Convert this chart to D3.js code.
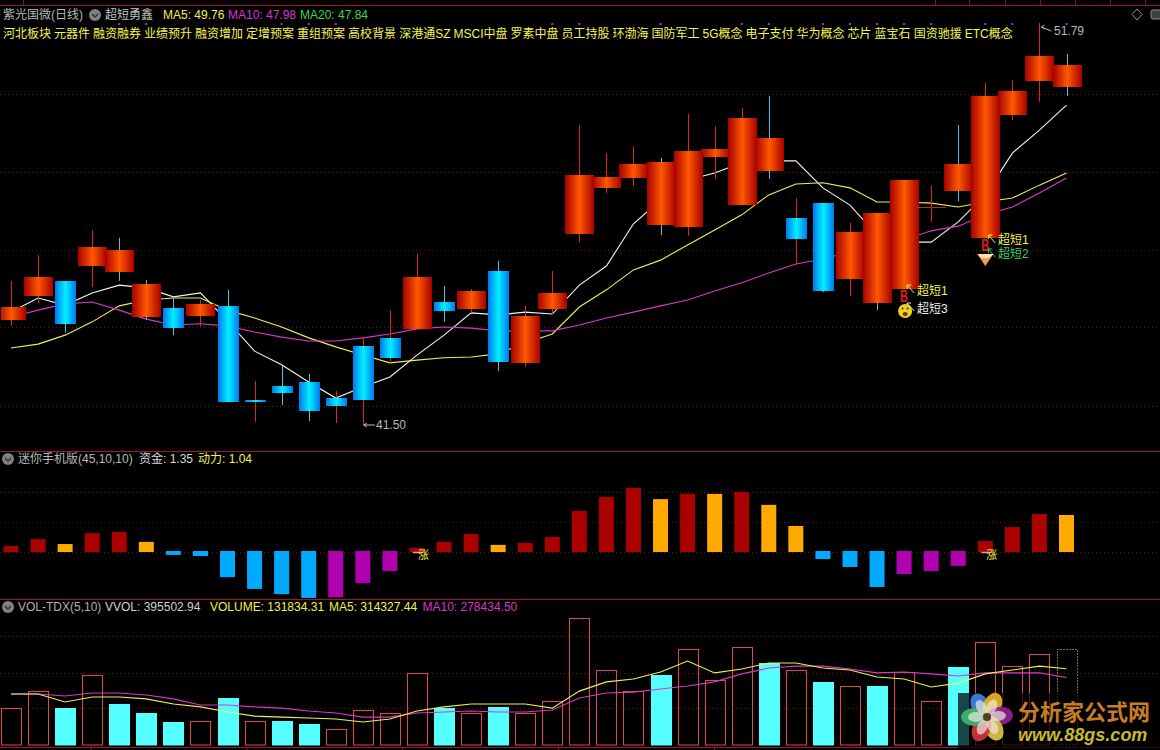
<!DOCTYPE html>
<html><head><meta charset="utf-8">
<script src="https://cdn.jsdelivr.net/npm/d3@7/dist/d3.min.js"></script>
<style>
html,body{margin:0;padding:0;background:#000;overflow:hidden}
text{font-family:"Liberation Sans","Noto Sans CJK SC",sans-serif;font-size:12px}
</style></head><body><svg id="c" width="1160" height="750"></svg>
<script>
const opens=[44.19,44.80,45.19,45.57,45.42,44.26,44.50,44.29,44.55,42.14,42.50,42.60,42.19,43.52,43.73,43.96,44.65,44.47,45.44,43.09,44.47,46.39,47.57,47.82,46.62,46.57,48.36,47.13,48.00,46.80,47.18,45.24,44.62,44.98,47.06,47.49,46.29,49.44,50.31,50.15];
const closes=[44.52,45.29,44.09,46.06,45.98,45.11,43.98,44.60,42.09,42.09,42.32,41.86,41.99,42.14,43.22,45.29,44.42,44.93,43.11,44.29,44.88,47.90,47.85,48.18,48.23,48.51,48.57,49.36,48.85,46.26,44.93,46.44,46.93,47.77,47.08,48.18,49.92,50.05,50.95,50.72];
const highs=[45.19,45.85,45.19,46.49,46.29,45.21,44.75,44.70,44.96,42.63,43.01,42.81,42.37,43.75,44.44,45.88,45.06,44.98,45.70,44.55,45.44,49.18,48.46,48.62,48.34,49.46,49.15,49.62,49.92,47.31,47.18,46.67,46.93,47.77,47.62,49.18,50.26,50.33,51.79,51.00];
const lows=[44.03,44.62,43.86,45.03,45.19,44.19,43.80,44.03,42.09,41.58,42.01,41.60,41.55,41.50,43.09,43.96,44.14,44.37,42.88,42.98,44.34,46.18,47.44,47.62,46.36,46.34,47.80,47.13,47.80,45.62,44.90,44.80,44.44,44.98,46.70,47.23,46.29,49.31,49.77,49.92];
const bodyKinds="rrbrrrbrbbbbbbbrbrbrrrrrrrrrrbbrrrrrrrrr".split("");
const wickKinds="rrcrcccrcrccrrrrcrcrrrrrcrrrcrcrcrrcrrrc".split("");
const ma5Price=[44.39,44.75,44.57,44.88,45.08,45.01,44.78,44.88,44.16,43.39,43.04,42.60,42.19,42.47,42.73,43.29,43.80,44.37,44.32,44.39,44.34,45.08,45.57,46.65,47.26,47.77,47.95,48.21,48.26,48.26,47.57,47.13,46.36,46.18,46.18,46.70,47.39,48.46,49.05,49.69];
const ma10Price=[43.47,43.57,43.80,44.14,44.55,44.70,44.75,44.75,44.44,44.24,44.01,43.73,43.50,43.29,43.09,43.16,43.22,43.24,43.32,43.60,43.83,44.52,44.96,45.47,45.72,46.11,46.49,46.88,47.39,47.67,47.70,47.57,47.21,47.21,47.18,47.08,47.21,47.31,47.64,47.95];
const ma20Price=[44.26,44.44,44.60,44.65,44.44,44.21,44.06,44.09,44.03,43.88,43.75,43.65,43.65,43.73,43.83,43.96,44.01,43.98,43.91,43.91,43.91,44.06,44.24,44.39,44.55,44.70,44.93,45.14,45.39,45.62,45.75,45.93,46.11,46.24,46.47,46.59,46.88,47.08,47.44,47.82];
const flowValues=[0.22,0.47,0.29,0.69,0.73,0.37,-0.07,-0.11,-0.88,-1.31,-1.50,-1.64,-1.61,-1.10,-0.66,0.15,0.37,0.66,0.26,0.33,0.55,1.50,2.01,2.34,1.93,2.12,2.12,2.19,1.72,0.95,-0.22,-0.51,-1.24,-0.77,-0.66,-0.47,0.40,0.91,1.39,1.35];
const flowKinds="rrorroBBBBBBmmmrrrorrrrrororooBBBmmmrrro".split("");
const volumes=[152,222,152,288,169,132,95,99,194,99,99,87,66,144,132,297,152,132,157,132,181,523,309,222,288,396,268,404,338,309,260,243,243,301,181,321,424,325,375,395.5];
const volKinds="hhchccchchcchhhhchchhhhhchhhchchchhchhhd".split("");
const volMa5=[210,210,177,198,198,190,169,157,136,119,115,111,107,95,107,140,157,169,169,169,152,222,260,272,301,346,297,313,338,338,317,309,280,272,239,255,293,309,325,314];
const volMa10=[210,210,202,214,214,206,190,165,165,157,152,140,132,115,115,132,136,140,136,136,144,194,214,218,231,243,260,293,317,325,325,313,297,301,293,284,297,297,297,278];
const tags=["河北板块","元器件","融资融券","业绩预升","融资增加","定增预案","重组预案","高校背景","深港通SZ","MSCI中盘","罗素中盘","员工持股","环渤海","国防军工","5G概念","电子支付","华为概念","芯片","蓝宝石","国资驰援","ETC概念"];
const dotIdx=[4,5,10,11,12,20,21,24,27,28,30,31,32,33,34,36,37,39];
const priceGrid=[49.97,47.98,45.98,44.01,41.99];
const flowGrid=[0,1.09,2.19];
const volGrid=[152,297,449];
const axisIdx=[2.96,8.72,14.48,20.24,26];

const svg=d3.select("#c");
svg.append("rect").attr("width",1160).attr("height",750).attr("fill","#000");
const defs=svg.append("defs");
function grad(id,edge,mid){
  const g=defs.append("linearGradient").attr("id",id);
  [[0,edge],[.5,mid],[1,edge]].forEach(s=>g.append("stop").attr("offset",s[0]).attr("stop-color",s[1]));
}
grad("gr","#a80000","#ff5800");grad("gb","#0078f0","#00f0ff");
defs.append("clipPath").attr("id","plot").append("rect").attr("x",1).attr("y",0).attr("width",1159).attr("height",450);

const n=opens.length, idx=d3.range(n);
const x=d3.scaleLinear().domain([0,39]).range([11,1066.5]);
const yP=d3.scaleLinear().domain([41.5,51.79]).range([425,23]);
const yF=d3.scaleLinear().domain([0,1.35]).range([552,515]);
const yV=d3.scaleLinear().domain([0,395.5]).range([745,649]);

// frame
const frameC="#a01828";
[5,451,599,747].forEach(y=>svg.append("line").attr("x1",0).attr("x2",1160).attr("y1",y+.5).attr("y2",y+.5).attr("stroke",frameC));
[23,935,969,1005,1040,1075,1110,1145].forEach(v=>svg.append("line").attr("x1",v+.5).attr("x2",v+.5).attr("y1",0).attr("y2",5).attr("stroke","#801820"));
svg.append("g").selectAll("line").data(axisIdx).join("line").attr("x1",d=>x(d)).attr("x2",d=>x(d)).attr("y1",747).attr("y2",750).attr("stroke",frameC);
function grid(sel,vals,sc){
  sel.selectAll("line").data(vals).join("line").attr("x1",0).attr("x2",1160)
   .attr("y1",d=>Math.round(sc(d))+.5).attr("y2",d=>Math.round(sc(d))+.5)
   .attr("stroke","#6a1414").attr("stroke-dasharray","1 3");
}
grid(svg.append("g"),priceGrid,yP);grid(svg.append("g"),flowGrid,yF);grid(svg.append("g"),volGrid,yV);

// price lines (behind candles)
const lineOf=(sc)=>d3.line().x((d,i)=>x(i)).y(d=>sc(d));
[[ma5Price,"#f4f4f4"],[ma10Price,"#f0f050"],[ma20Price,"#d838c8"]].forEach(([a,c])=>
  svg.append("path").attr("d",lineOf(yP)(a)).attr("fill","none").attr("stroke",c).attr("stroke-width",1.1));
// candles
const cg=svg.append("g").attr("clip-path","url(#plot)");
idx.forEach(i=>{
  cg.append("line").attr("x1",Math.round(x(i))+.5).attr("x2",Math.round(x(i))+.5).attr("y1",yP(highs[i])).attr("y2",yP(lows[i]))
    .attr("stroke",wickKinds[i]=="r"?"#e02424":"#48c4ec").attr("stroke-width",1);
});
idx.forEach(i=>{
  const red=bodyKinds[i]=="r", w=red?29:21;
  const t=Math.round(yP(Math.max(opens[i],closes[i]))), b=Math.round(yP(Math.min(opens[i],closes[i])));
  cg.append("rect").attr("x",Math.round(x(i))+.5-w/2).attr("width",w).attr("y",t).attr("height",Math.max(1,b-t))
    .attr("fill",b-t<=1?"#b03020":`url(#${red?"gr":"gb"})`);
});

// flow bars
const flowC={r:"#aa0000",o:"#ffaa00",B:"#00aaff",m:"#b000b0"};
svg.append("g").selectAll("rect").data(flowValues).join("rect")
 .attr("x",(d,i)=>x(i)-7.5).attr("width",15)
 .attr("y",d=>d>=0?yF(d):551).attr("height",d=>d>=0?552-yF(d):yF(d)-551+1)
 .attr("fill",(d,i)=>flowC[flowKinds[i]]);

// volume
svg.append("g").selectAll("rect").data(volumes).join("rect")
 .attr("x",(d,i)=>Math.round(x(i))-10+.5).attr("width",20)
 .attr("y",d=>Math.round(yV(d))+.5).attr("height",d=>744.5-Math.round(yV(d)))
 .attr("fill",(d,i)=>volKinds[i]=="c"?"#55ffff":"none")
 .attr("stroke",(d,i)=>volKinds[i]=="c"?"#55ffff":volKinds[i]=="d"?"#e8e850":"#e04848")
 .attr("stroke-dasharray",(d,i)=>volKinds[i]=="d"?"1 2":null);
[[volMa10,"#d838c8"],[volMa5,"#f0f050"]].forEach(([a,c])=>
  svg.append("path").attr("d",lineOf(yV)(a)).attr("fill","none").attr("stroke",c).attr("stroke-width",1.1));

// text helpers
const T=(s,px,py,c,o={})=>{const t=svg.append("text").attr("x",px).attr("y",py).attr("fill",c).text(s);
  Object.entries(o).forEach(([k,v])=>t.style(k,v));return t;};
function icon(cx,cy){
  svg.append("circle").attr("cx",cx).attr("cy",cy).attr("r",6).attr("fill","#808080");
  svg.append("path").attr("d",`M${cx-3},${cy-1}L${cx},${cy+2}L${cx+3},${cy-1}`).attr("fill","none").attr("stroke","#303030").attr("stroke-width",1.4);
}
T("紫光国微(日线)",3,19,"#b8b8b8");icon(95,15);T("超短勇鑫",105,19,"#c8c8c8");
T("MA5: 49.76",163,19,"#f0f050");T("MA10: 47.98",228,19,"#d838c8");T("MA20: 47.84",300,19,"#38d848");
// tags flowed in sequence
let tx=3;
tags.forEach(s=>{const t=T(s,tx,38,"#f4f450");tx+=t.node().getComputedTextLength()+3;});
svg.append("g").selectAll("rect").data(dotIdx).join("rect").attr("x",d=>x(d)-1).attr("y",23).attr("width",2).attr("height",2).attr("fill","#a030d0");

icon(8,459);T("迷你手机版(45,10,10)",18,463,"#b8b8b8");T("资金: 1.35",139,463,"#d8d8d8");T("动力: 1.04",198,463,"#f0f050");
icon(8,607);T("VOL-TDX(5,10)",18,611,"#b0b0b0");T("VVOL: 395502.94",105,611,"#d0d0d0");
T("VOLUME: 131834.31",210,611,"#f0f050");T("MA5: 314327.44",329,611,"#f0f050");T("MA10: 278434.50",422.5,611,"#d838c8");

// extreme labels
function arrowL(x1,y1,x2,y2,c){
  svg.append("path").attr("d",`M${x1},${y1}L${x2},${y2}M${x1+3},${y1-2}L${x1},${y1}L${x1+3},${y1+2}`).attr("fill","none").attr("stroke",c);
}
arrowL(x(13)+1,yP(41.5),x(13)+12,yP(41.5),"#c0c0c0");T("41.50",376,429,"#b8b8b8");
arrowL(x(38)+2,yP(51.79)+4,x(38)+12,yP(51.79)+8,"#c0c0c0");T("51.79",1054,35,"#b8b8b8");

// signals
function bMark(cx,cy){T("B",cx-4,cy+6,"#e01818",{"font-weight":"bold","font-size":"16px"}).attr("textLength",8).attr("lengthAdjust","spacingAndGlyphs");}
function pointer(tipx,tipy,c){
  svg.append("path").attr("d",`M${tipx},${tipy}L${tipx+7},${tipy+8}M${tipx},${tipy}L${tipx+4},${tipy}M${tipx},${tipy}L${tipx},${tipy+4}`).attr("fill","none").attr("stroke",c);
}
const sx1=x(33), sx2=x(36);
bMark(sx1,296);pointer(sx1+3,285,"#f0f050");T("超短1",917,295,"#f0f050");
pointer(sx1+3,303,"#e8e8e8");T("超短3",917,313,"#f0f0f0");
svg.append("circle").attr("cx",sx1+1).attr("cy",311).attr("r",7).attr("fill","#f0d020");
svg.append("circle").attr("cx",sx1-1.5).attr("cy",308.5).attr("r",1).attr("fill","#503000");
svg.append("circle").attr("cx",sx1+3.5).attr("cy",308.5).attr("r",1).attr("fill","#503000");
svg.append("ellipse").attr("cx",sx1+1).attr("cy",314).attr("rx",2.5).attr("ry",2).attr("fill","#703000");
bMark(sx2,245);pointer(sx2+3,235,"#f0f050");T("超短1",998,244,"#f0f050");
pointer(sx2+3,249,"#30d060");T("超短2",998,258,"#30d060");
svg.append("path").attr("d",`M${sx2-8},${254}L${sx2+8},${254}L${sx2},${266}Z`).attr("fill","#f0a050");
svg.append("path").attr("d",`M${sx2-8},${254}L${sx2+8},${254}L${sx2+4},${258}L${sx2-4},${258}Z`).attr("fill","#ffe0b0");
function zhang(i){
  svg.append("path").attr("d",`M${x(i)-4},${yF(0)+.5}L${x(i)+5},${yF(0)+.5}`).attr("stroke","#f090c0").attr("stroke-width",1.5);
  T("涨",x(i)+1,559,"#f0f050",{"font-size":"11px"});
}
zhang(15);zhang(36);

// corner controls
svg.append("path").attr("d","M1137,9L1142,14.5L1137,20L1132,14.5Z").attr("fill","none").attr("stroke","#909090");
svg.append("rect").attr("x",1151).attr("y",10).attr("width",12).attr("height",9).attr("rx",2).attr("fill","#404040").attr("stroke","#909090");

// watermark
svg.append("rect").attr("x",958).attr("y",693).attr("width",202).attr("height",57).attr("fill","#000").attr("opacity",.72);
const petals=[["#3a80d8",-30],["#e0b020",25],["#902090",85],["#d8c040",150],["#d03040",205],["#40b070",270]];
petals.forEach(([c,a])=>svg.append("ellipse").attr("cx",987).attr("cy",704).attr("rx",9).attr("ry",13)
  .attr("transform",`rotate(${a} 987 717)`).attr("fill",c).attr("opacity",.95));
petals.forEach(([c,a])=>svg.append("ellipse").attr("cx",987).attr("cy",706).attr("rx",5).attr("ry",8)
  .attr("transform",`rotate(${a} 987 717)`).attr("fill","#e8e8e0").attr("opacity",.7));
svg.append("circle").attr("cx",987).attr("cy",717).attr("r",4).attr("fill","#504020");
T("分析家公式网",1018,720,"#c87c24",{"font-size":"22px","font-weight":"bold"});
T("www.88gs.com",1018,741,"#c8b830",{"font-size":"18px","font-weight":"bold","font-style":"italic"});
</script></body></html>
